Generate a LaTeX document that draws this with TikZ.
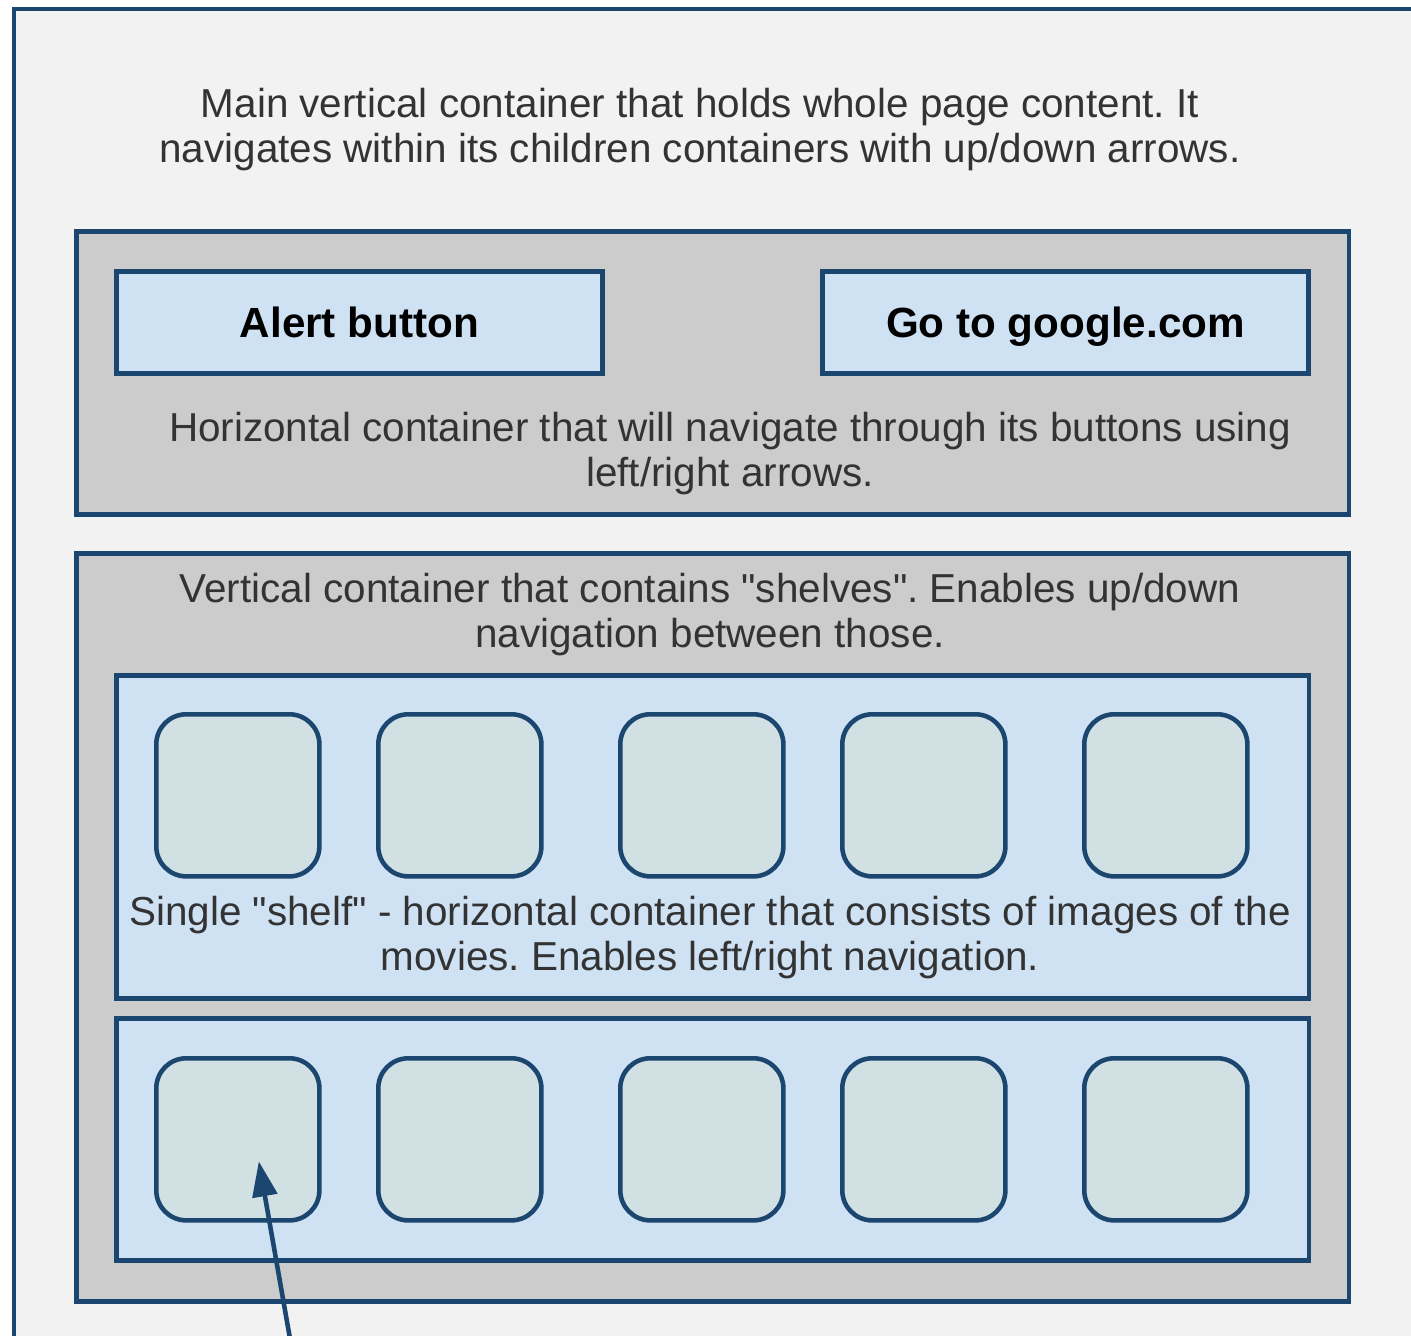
\documentclass[tikz,border=0pt]{standalone}
\usepackage{fontspec}
\setmainfont{Liberation Sans}
\usetikzlibrary{arrows.meta,calc}
\definecolor{edgeblue}{HTML}{1B4670}
\definecolor{pagebg}{HTML}{F2F2F2}
\definecolor{boxgray}{HTML}{CCCCCC}
\definecolor{shelfblue}{HTML}{CFE2F3}
\definecolor{tilefill}{HTML}{D0E0E3}
\definecolor{textgray}{HTML}{333333}
\frenchspacing
\tikzset{
  px/.style={x=0.01cm,y=-0.01cm},
  container/.style={draw=edgeblue,fill=boxgray,line width=1.3pt,anchor=north west,inner sep=0pt},
  shelfbox/.style={draw=edgeblue,fill=shelfblue,line width=1.3pt,anchor=north west,inner sep=0pt},
  buttonbox/.style={draw=edgeblue,fill=shelfblue,line width=1.3pt,anchor=north west,inner sep=0pt,
    minimum width=4.86cm,minimum height=1.02cm},
  buttonlabel/.style={font=\fontsize{12}{14}\selectfont\bfseries,text=black,
    text height=0.72em,text depth=0.21em,inner sep=0pt,yshift=-0.06cm},
  tile/.style={draw=edgeblue,fill=tilefill,line width=1.3pt,rounded corners=0.3cm,anchor=north west,
    inner sep=0pt,minimum width=1.63cm,minimum height=1.62cm},
  note/.style={align=center,text=textgray,font=\fontsize{11.5}{12.8}\selectfont,inner sep=0pt},
  pointer/.style={draw=edgeblue,line width=1.3pt,-{Triangle[length=10pt,width=7pt]}}
}
\begin{document}
\begin{tikzpicture}[px]
  \clip (0,0) rectangle (1411,1336);
  \fill[white] (0,0) rectangle (1411,1336);
  % page-level vertical container
  \draw[draw=edgeblue,fill=pagebg,line width=1pt] (14,9) rectangle (1440,1370);
  \node[note] (mainnote) at (700,130)
    {Main vertical container that holds whole page content. It\\
     navigates within its children containers with up/down arrows.};

  % horizontal button bar
  \node[container,minimum width=12.72cm,minimum height=2.83cm] (hbar) at (74,229) {};
  \node[buttonbox] (alert) at (114,269) {};
  \node[buttonlabel] at (alert.center) {Alert button};
  \node[buttonbox] (google) at (820,269) {};
  \node[buttonlabel] at (google.center) {Go to google.com};
  \node[note] (hnote) at (730,453.5)
    {Horizontal container that will navigate through its buttons using\\
     left/right arrows.};

  % vertical container with shelves
  \node[container,minimum width=12.72cm,minimum height=7.48cm] (vbox) at (74,551) {};
  \node[note] (vnote) at (710,614.5)
    {Vertical container that contains \textquotedbl shelves\textquotedbl. Enables up/down\\
     navigation between those.};

  \node[shelfbox,minimum width=11.92cm,minimum height=3.23cm] (shelfA) at (114,673) {};
  \node[shelfbox,minimum width=11.92cm,minimum height=2.42cm] (shelfB) at (114,1016) {};

  \foreach \i/\x in {1/154,2/376,3/618,4/840,5/1082}{
    \node[tile] (a\i) at (\x,712) {};
    \node[tile] (b\i) at (\x,1056) {};
  }
  \node[note] (snote) at (710,937.5)
    {Single \textquotedbl shelf\textquotedbl\ - horizontal container that consists of images of the\\
     movies. Enables left/right navigation.};

  % pointer into the first movie of the lower shelf
  \coordinate (tail) at (292,1350);
  \coordinate (tip) at ($(b1.center)+(21,22)$);
  \draw[pointer] (tail) -- (tip);
\end{tikzpicture}
\end{document}
